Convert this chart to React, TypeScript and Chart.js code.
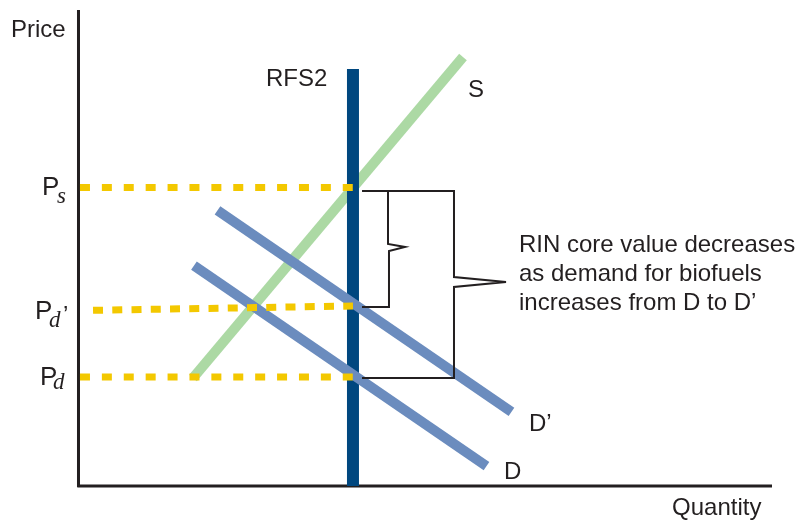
import React, { useEffect, useRef } from "react";
import { Chart, registerables } from "chart.js";

Chart.register(...registerables);

// ---- Data (quantity on x: 0..100, price on y: 0..100, arbitrary units) ----
const axisQ = [0.07, 98.86];
const axisP = [100, -0.2];

const supplyQ = [16.38, 54.84];
const supplyP = [22.69, 90.13];

const demandQ = [16.52, 58.19];
const demandP = [46.32, 4.2];

const demandPrimeQ = [19.87, 61.75];
const demandPrimeP = [57.88, 15.55];

const rfs2Q = [39.17, 39.17];
const rfs2P = [0, 87.61];

const psQ = [0.28, 39.17];
const psP = [62.71, 62.71];

const pdPrimeQ = [2.14, 39.17];
const pdPrimeP = [36.91, 37.82];

const pdQ = [0.28, 39.17];
const pdP = [22.9, 22.9];

// bracket outlines
const bigBracketQ = [40.46, 53.56, 53.56, 60.97, 53.56, 53.56, 40.46];
const bigBracketP = [61.97, 61.97, 43.91, 42.86, 41.81, 22.69, 22.69];
const smallBracketQ = [44.16, 44.16, 46.58, 44.3, 44.3, 40.46];
const smallBracketP = [61.97, 50.84, 50.21, 49.37, 37.61, 37.61];

// text annotations
const plainLabels = [
  { text: "Price", q: -9.54, p: 94.33 },
  { text: "Quantity", q: 84.62, p: -6.09 },
  { text: "RFS2", q: 26.78, p: 84.03 },
  { text: "S", q: 55.56, p: 81.72 },
  { text: "D\u2019", q: 64.25, p: 11.55 },
  { text: "D", q: 60.68, p: 1.47 },
  { text: "RIN core value decreases", q: 62.82, p: 49.16 },
  { text: "as demand for biofuels", q: 62.82, p: 43.07 },
  { text: "increases from D to D\u2019", q: 62.82, p: 36.97 },
  { text: "\u2019", q: -2.14, p: 34.24 },
];
const priceLabels = [
  { main: "P", sub: "s", q: -5.13, p: 61.13, subQ: -2.99, subP: 59.45 },
  { main: "P", sub: "d", q: -6.13, p: 35.08, subQ: -4.13, subP: 33.4 },
  { main: "P", sub: "d", q: -5.41, p: 21.22, subQ: -3.56, subP: 20.38 },
];

const pts = (q: number[], p: number[]) => q.map((v, i) => ({ x: v, y: p[i] }));

const INK = "#231f20";
const SANS = "'Liberation Sans', Arial, Helvetica, sans-serif";
const SERIF = "'Liberation Serif', 'Times New Roman', serif";

const labelPlugin = {
  id: "labels",
  afterDatasetsDraw(chart: any) {
    const { ctx, scales } = chart;
    const xs = scales.x;
    const ys = scales.y;
    ctx.save();
    ctx.fillStyle = INK;
    ctx.textBaseline = "alphabetic";
    ctx.textAlign = "left";
    ctx.font = `24px ${SANS}`;
    plainLabels.forEach((l) => {
      ctx.fillText(l.text, xs.getPixelForValue(l.q), ys.getPixelForValue(l.p));
    });
    priceLabels.forEach((l) => {
      ctx.font = `26px ${SANS}`;
      ctx.fillText(l.main, xs.getPixelForValue(l.q), ys.getPixelForValue(l.p));
      ctx.font = `italic 23px ${SERIF}`;
      ctx.fillText(l.sub, xs.getPixelForValue(l.subQ), ys.getPixelForValue(l.subP));
    });
    ctx.restore();
  },
};

function line(data: any[], color: string, width: number, extra: any = {}) {
  return {
    data,
    borderColor: color,
    backgroundColor: color,
    borderWidth: width,
    pointRadius: 0,
    pointHoverRadius: 0,
    tension: 0,
    fill: false,
    borderCapStyle: "butt",
    borderJoinStyle: "miter",
    clip: false,
    ...extra,
  };
}

export default function App() {
  const ref = useRef<HTMLCanvasElement>(null);
  useEffect(() => {
    if (!ref.current) return;
    const yellow = "#f3c800";
    const chart = new Chart(ref.current, {
      type: "line",
      data: {
        datasets: [
          // first dataset is drawn on top
          line(pts(psQ, psP), yellow, 7, { borderDash: [10, 11.9] }),
          line(pts(pdPrimeQ, pdPrimeP), yellow, 7, { borderDash: [10, 9.25] }),
          line(pts(pdQ, pdP), yellow, 7, { borderDash: [10, 11.9] }),
          line(pts(bigBracketQ, bigBracketP), INK, 2),
          line(pts(smallBracketQ, smallBracketP), INK, 2),
          line(pts(demandQ, demandP), "#6b8cbe", 10),
          line(pts(demandPrimeQ, demandPrimeP), "#6b8cbe", 10),
          line(pts(rfs2Q, rfs2P), "#00477f", 12),
          line(pts(supplyQ, supplyP), "#acd9a4", 10),
          line(pts([axisQ[0], axisQ[0]], [axisP[0], axisP[1]]), INK, 3),
          line(pts([-0.1, axisQ[1]], [0, 0]), INK, 3),
        ] as any,
      },
      options: {
        animation: false,
        responsive: false,
        devicePixelRatio: 1,
        events: [],
        layout: { padding: { left: 78, right: 24, top: 10, bottom: 35 } },
        plugins: { legend: { display: false }, tooltip: { enabled: false } },
        scales: {
          x: { type: "linear", min: 0, max: 100, display: false },
          y: { type: "linear", min: 0, max: 100, display: false },
        },
      } as any,
      plugins: [labelPlugin],
    });
    return () => chart.destroy();
  }, []);
  return (
    <div style={{ position: "fixed", left: 0, top: 0, width: 804, height: 521, background: "#fff" }}>
      <canvas ref={ref} width={804} height={521} style={{ width: 804, height: 521, display: "block" }} />
    </div>
  );
}
